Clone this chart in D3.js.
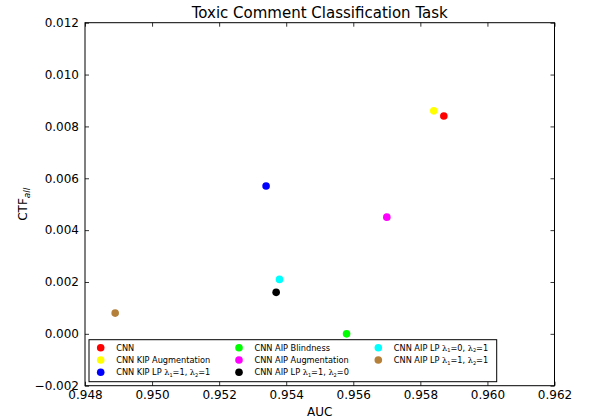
<!DOCTYPE html>
<html><head><meta charset="utf-8">
<script src="https://cdn.jsdelivr.net/npm/d3@7"></script>
<style>body{margin:0;background:#fff}svg{font-family:"DejaVu Sans",sans-serif}</style>
</head><body><svg id="c" width="589" height="420"></svg>
<script>
// data
const models = ["CNN","CNN KIP Augmentation","CNN KIP LP","CNN AIP Blindness","CNN AIP Augmentation","CNN AIP LP","CNN AIP LP","CNN AIP LP"];
const lambda1 = [null,null,1,null,null,1,0,1];
const lambda2 = [null,null,1,null,null,0,1,1];
const auc = [0.9587,0.9584,0.9534,0.9558,0.9570,0.9537,0.9538,0.9489];
const ctf = [0.0084,0.0086,0.0057,0.0000,0.0045,0.0016,0.0021,0.0008];
const colors = ["#ff0000","#ffff00","#0000ff","#00ff00","#ff00ff","#000000","#00ffff","#b5803a"];
const xTicks = [0.948,0.950,0.952,0.954,0.956,0.958,0.960,0.962];
const yTicks = [-0.002,0.000,0.002,0.004,0.006,0.008,0.010,0.012];

const svg = d3.select("#c");
const L=85, R=554.5, T=22.7, B=385.7;
const x = d3.scaleLinear().domain([0.948,0.962]).range([L,R]);
const y = d3.scaleLinear().domain([-0.002,0.012]).range([B,T]);
const fmt = d3.format(".3f");
const fmtY = v => (v<0?"\u2212":"")+fmt(Math.abs(v));

const ax = (g, axis) => { g.call(axis); g.select(".domain").remove(); g.selectAll("line").attr("stroke","#000").attr("stroke-width",0.8); g.selectAll("text").attr("font-size",12).attr("fill","#000").attr("font-family","DejaVu Sans"); };
svg.append("g").attr("transform",`translate(0,${B})`).call(g=>ax(g,d3.axisBottom(x).tickValues(xTicks).tickFormat(fmt).tickSizeInner(-4).tickPadding(5)));
svg.append("g").attr("transform",`translate(0,${T})`).call(g=>ax(g,d3.axisTop(x).tickValues(xTicks).tickFormat("").tickSizeInner(-4)));
svg.append("g").attr("transform",`translate(${L},0)`).call(g=>ax(g,d3.axisLeft(y).tickValues(yTicks).tickFormat(fmtY).tickSizeInner(-4).tickPadding(6)));
svg.append("g").attr("transform",`translate(${R},0)`).call(g=>ax(g,d3.axisRight(y).tickValues(yTicks).tickFormat("").tickSizeInner(-4)));
svg.append("rect").attr("x",L).attr("y",T).attr("width",R-L).attr("height",B-T).attr("fill","none").attr("stroke","#000").attr("stroke-width",1);

svg.append("g").selectAll("circle").data(models).join("circle")
  .attr("cx",(d,i)=>x(auc[i])).attr("cy",(d,i)=>y(ctf[i])).attr("r",3.8)
  .attr("fill",(d,i)=>colors[i]);

svg.append("text").attr("x",(L+R)/2).attr("y",17.5).attr("text-anchor","middle").attr("font-size",15).text("Toxic Comment Classification Task");
svg.append("text").attr("x",(L+R)/2).attr("y",416).attr("text-anchor","middle").attr("font-size",12).text("AUC");
const yl = svg.append("text").attr("transform",`translate(27,${(T+B)/2}) rotate(-90)`).attr("text-anchor","middle").attr("font-size",12);
yl.append("tspan").text("CTF");
yl.append("tspan").attr("dy",3).attr("font-size",9).attr("font-style","italic").text("all");

const lg = svg.append("g");
lg.append("rect").attr("x",89).attr("y",339.7).attr("width",407.7).attr("height",42).attr("fill","#fff").attr("stroke","#000").attr("stroke-width",1);
const colX = [100.7,239,378.3], rowY=[347.7,360,372.3];
models.forEach((m,i)=>{
  const c = Math.floor(i/3), r = i%3;
  const g = lg.append("g");
  g.append("circle").attr("cx",colX[c]).attr("cy",rowY[r]).attr("r",3.8).attr("fill",colors[i]);
  const t = g.append("text").attr("x",colX[c]+15.5).attr("y",rowY[r]+3).attr("font-size",8.2).attr("fill","#000");
  t.append("tspan").text(m);
  if(lambda1[i]!==null){
    t.append("tspan").text(" \u03bb").attr("font-family","DejaVu Serif");
    t.append("tspan").attr("font-size",5).attr("dy",1.5).text("1");
    t.append("tspan").attr("dy",-1.5).text("="+lambda1[i]+", ");
    t.append("tspan").text("\u03bb").attr("font-family","DejaVu Serif");
    t.append("tspan").attr("font-size",5).attr("dy",1.5).text("2");
    t.append("tspan").attr("dy",-1.5).text("="+lambda2[i]);
  }
});
</script></body></html>
